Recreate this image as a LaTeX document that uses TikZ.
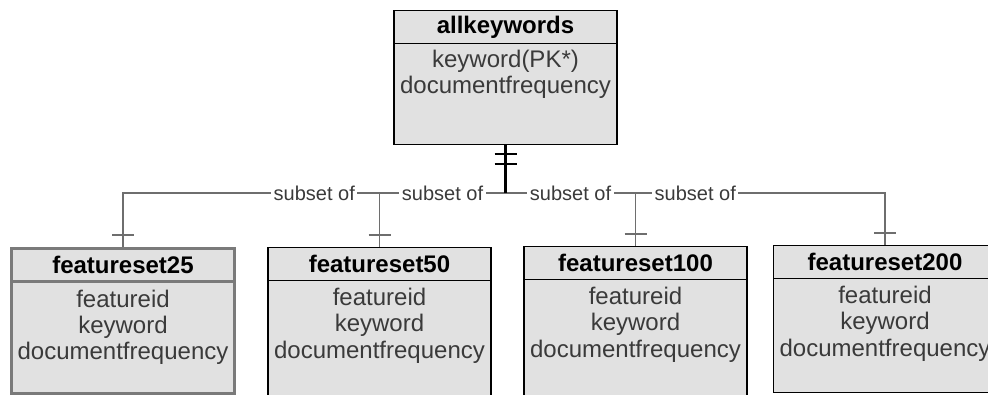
\documentclass[tikz,border=0pt]{standalone}
\usepackage{fontspec}
\setmainfont{Liberation Sans}
\usetikzlibrary{positioning, calc}
\definecolor{boxfill}{HTML}{E1E1E1}
\definecolor{textgray}{HTML}{3A3A3A}
\definecolor{linkgray}{HTML}{6E6E6E}
\definecolor{selgray}{HTML}{7A7A7A}

\begin{document}
\begin{tikzpicture}[x=1pt, y=-1pt,
        entity/.style={draw=black, line width=1.2pt, fill=boxfill, minimum width=223pt, anchor=north, inner sep=0pt},
        head/.style={draw=black, line width=1.2pt, fill=boxfill, minimum width=223pt, minimum height=33pt, anchor=north, font=\fontsize{24}{27}\selectfont\bfseries},
        fields/.style={align=center, text=textgray, font=\fontsize{24}{26.2}\selectfont, inner sep=0pt},
        sel/.style={draw=selgray, line width=2.6pt},
        link/.style={draw=linkgray, line width=1.5pt},
        stem/.style={draw=black, line width=2.2pt},
        rel/.style={fill=white, text=textgray, font=\fontsize{20}{22}\selectfont, inner sep=2.5pt},
        tick/.style={draw=linkgray, line width=1.5pt}
    ]
    \useasboundingbox (0,0) rectangle (988,394);
    \clip (0,0) rectangle (988,394);

    % Master table
    \node[entity, minimum height=134pt] (allkw) at (505.5,10) {};
    \node[head] (allkw-h) at (allkw.north) {allkeywords};
    \node[fields, below=6pt of allkw-h] (allkw-f) {keyword(PK*)\\documentfrequency};

    % Feature set tables
    \node[entity, sel, minimum height=145pt] (fs25) at (123,247) {};
    \node[head, sel] (fs25-h) at (fs25.north) {featureset25};
    \node[fields, below=7pt of fs25-h] (fs25-f) {featureid\\keyword\\documentfrequency};

    \node[entity, minimum height=160pt] (fs50) at (379.5,247) {};
    \node[head] (fs50-h) at (fs50.north) {featureset50};
    \node[fields, below=7pt of fs50-h] (fs50-f) {featureid\\keyword\\documentfrequency};

    \node[entity, minimum height=160pt] (fs100) at (635.5,246) {};
    \node[head] (fs100-h) at (fs100.north) {featureset100};
    \node[fields, below=7pt of fs100-h] (fs100-f) {featureid\\keyword\\documentfrequency};

    \node[entity, minimum height=147pt] (fs200) at (885,245) {};
    \node[head] (fs200-h) at (fs200.north) {featureset200};
    \node[fields, below=7pt of fs200-h] (fs200-f) {featureid\\keyword\\documentfrequency};

    % Relations (outer ones first, so inner labels stay on top)
    \coordinate (bus) at (0,193);
    \coordinate (junc) at (allkw.south |- bus);
    \draw[link] (junc) -| node[rel, pos=0.25] {subset of} (fs25.north);
    \draw[link] (junc) -| node[rel, pos=0.25] {subset of} (fs200.north);
    \draw[link] (junc) -| node[rel, pos=0.25] {subset of} (fs50.north);
    \draw[link] (junc) -| node[rel, pos=0.25] {subset of} (fs100.north);
    \draw[stem] (allkw.south) -- (junc);

    % Cardinality marks
    \draw[stem] ([xshift=-11pt,yshift=-9pt]allkw.south) -- ([xshift=11pt,yshift=-9pt]allkw.south);
    \draw[stem] ([xshift=-11pt,yshift=-19pt]allkw.south) -- ([xshift=11pt,yshift=-19pt]allkw.south);
    \foreach \e in {fs25,fs50,fs100,fs200}
        \draw[tick] ([xshift=-11pt,yshift=12pt]\e.north) -- ([xshift=11pt,yshift=12pt]\e.north);

\end{tikzpicture}
\end{document}
